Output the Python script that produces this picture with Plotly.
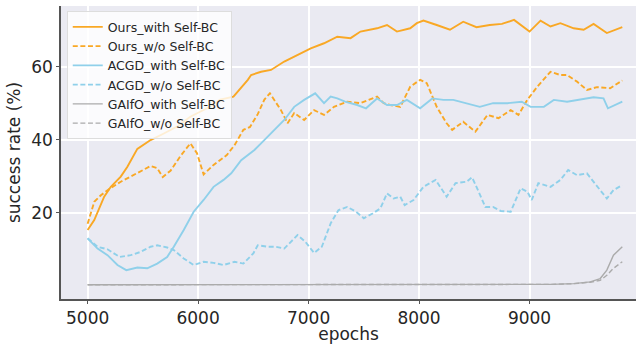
import plotly.graph_objects as go

# ---- data ----
ours_with_x = [5000, 5060, 5150, 5210, 5300, 5360, 5450, 5570, 5690, 5810, 5930, 6080, 6200, 6320,
               6450, 6480, 6570, 6660, 6780, 6900, 7020, 7140, 7260, 7380, 7470, 7620, 7710, 7800,
               7920, 7980, 8040, 8160, 8280, 8400, 8520, 8640, 8750, 8860, 9000, 9100, 9190, 9280,
               9400, 9490, 9580, 9700, 9790, 9840]
ours_with_y = [15.3, 18.0, 24.4, 27.1, 29.9, 32.6, 37.5, 39.9, 41.7, 43.6, 46.3, 48.6, 51.0, 51.8,
               56.4, 57.7, 58.6, 59.1, 61.4, 63.2, 65.0, 66.4, 68.2, 67.8, 69.6, 70.5, 71.4, 69.6,
               70.5, 71.9, 72.6, 71.4, 70.1, 72.3, 70.8, 71.4, 71.7, 72.8, 69.6, 72.6, 71.0, 71.9,
               70.5, 70.1, 71.7, 69.2, 70.2, 70.8]

ours_wo_x = [5000, 5060, 5120, 5210, 5300, 5390, 5480, 5570, 5630, 5680, 5750, 5840, 5930, 5990,
             6050, 6140, 6260, 6330, 6410, 6470, 6540, 6600, 6650, 6750, 6810, 6870, 6960, 7050,
             7140, 7230, 7350, 7470, 7620, 7680, 7740, 7830, 7920, 8010, 8070, 8160, 8250, 8300,
             8400, 8510, 8620, 8720, 8830, 8900, 8980, 9070, 9190, 9280, 9340, 9430, 9520, 9610,
             9730, 9840]
ours_wo_y = [17.0, 23.0, 24.8, 26.8, 28.5, 29.9, 31.5, 32.8, 32.2, 29.8, 31.5, 35.5, 39.0, 36.3,
             30.5, 33.1, 35.8, 38.5, 42.7, 43.5, 47.0, 51.0, 52.7, 48.1, 44.5, 47.3, 45.4, 48.1,
             46.8, 49.0, 50.4, 50.0, 51.8, 50.0, 49.5, 49.0, 54.5, 56.4, 55.5, 49.0, 44.5, 42.7,
             44.9, 42.2, 46.8, 45.9, 48.1, 46.8, 50.9, 54.5, 58.6, 57.7, 57.7, 55.9, 53.6, 54.4,
             54.1, 56.2]

acgd_with_x = [5000, 5090, 5180, 5270, 5350, 5450, 5540, 5630, 5720, 5780, 5870, 5960, 6050, 6140,
               6230, 6300, 6390, 6510, 6570, 6690, 6780, 6870, 6960, 7060, 7140, 7200, 7260, 7330,
               7440, 7520, 7620, 7710, 7800, 7890, 8010, 8120, 8220, 8310, 8430, 8550, 8670, 8800,
               8930, 9010, 9130, 9220, 9340, 9460, 9580, 9670, 9710, 9840]
acgd_with_y = [13.0, 10.2, 8.4, 5.7, 4.3, 5.0, 4.8, 6.1, 7.9, 10.7, 15.3, 20.3, 23.5, 27.1,
               29.0, 30.8, 34.4, 37.2, 39.0, 42.7, 45.4, 49.0, 50.9, 52.7, 50.0, 51.8, 51.3, 50.4,
               49.5, 48.6, 51.3, 49.5, 49.5, 50.9, 48.6, 51.3, 50.9, 50.9, 50.0, 49.0, 50.0, 50.0,
               50.4, 49.0, 49.0, 50.9, 50.4, 50.9, 51.6, 51.3, 48.6, 50.4]

acgd_wo_x = [5000, 5090, 5180, 5290, 5390, 5480, 5570, 5630, 5720, 5780, 5870, 5960, 6050, 6140,
             6230, 6330, 6410, 6500, 6540, 6630, 6700, 6780, 6900, 6970, 7050, 7120, 7200, 7270,
             7350, 7430, 7500, 7580, 7650, 7710, 7770, 7830, 7870, 7950, 8040, 8150, 8250, 8330,
             8430, 8480, 8520, 8600, 8670, 8740, 8830, 8920, 8980, 9020, 9080, 9190, 9280, 9350,
             9430, 9520, 9590, 9700, 9760, 9840]
acgd_wo_y = [13.0, 10.7, 10.0, 7.9, 8.4, 9.3, 10.7, 11.1, 10.5, 9.8, 7.5, 5.7, 6.6, 6.3,
             5.7, 6.6, 6.1, 8.9, 11.1, 10.7, 10.7, 10.2, 13.9, 12.1, 9.0, 10.7, 17.1, 20.7,
             21.6, 20.3, 18.5, 19.8, 21.2, 25.3, 23.9, 24.4, 22.1, 23.5, 27.1, 29.0, 24.4, 28.1,
             28.5, 29.7, 27.1, 21.6, 21.6, 20.5, 20.3, 26.7, 25.8, 23.5, 28.1, 27.1, 29.0, 31.7,
             30.3, 30.8, 28.1, 23.9, 26.2, 27.6]

gaifo_with_x = [5000, 6000, 7000, 8000, 9000, 9200, 9400, 9550, 9640, 9700, 9760, 9840]
gaifo_with_y = [0.3, 0.3, 0.3, 0.3, 0.3, 0.4, 0.6, 1.1, 2.0, 4.3, 8.4, 10.7]

gaifo_wo_x = [5000, 6000, 7000, 8000, 9000, 9200, 9400, 9550, 9640, 9700, 9760, 9840]
gaifo_wo_y = [0.3, 0.3, 0.3, 0.3, 0.3, 0.4, 0.6, 1.0, 1.5, 2.9, 4.8, 6.6]

names = ["Ours_with Self-BC", "Ours_w/o Self-BC", "ACGD_with Self-BC",
         "ACGD_w/o Self-BC", "GAIfO_with Self-BC", "GAIfO_w/o Self-BC"]

y_ticks = [20, 40, 60]
x_ticks = [5000, 6000, 7000, 8000, 9000]

# ---- styles ----
ORANGE = "#F9A825"
BLUE = "#8FD0EA"
GREY = "#ABABAB"
DASH = "5px,2.6px"

series = [
    (ours_with_x, ours_with_y, ORANGE, "solid", 1.9),
    (ours_wo_x, ours_wo_y, ORANGE, DASH, 1.9),
    (acgd_with_x, acgd_with_y, BLUE, "solid", 1.9),
    (acgd_wo_x, acgd_wo_y, BLUE, DASH, 1.9),
    (gaifo_with_x, gaifo_with_y, GREY, "solid", 1.4),
    (gaifo_wo_x, gaifo_wo_y, GREY, DASH, 1.4),
]

fig = go.Figure()
for (xs, ys, col, dash, w), nm in zip(series, names):
    fig.add_trace(go.Scatter(x=xs, y=ys, mode="lines", name=nm,
                             line=dict(color=col, dash=dash, width=w)))

FONT = "DejaVu Sans"
fig.update_layout(
    width=637, height=344,
    margin=dict(l=61, r=1, t=6, b=45),
    paper_bgcolor="white",
    plot_bgcolor="#EAEAF2",
    font=dict(family=FONT, color="#262626"),
    showlegend=True,
    legend=dict(
        x=0.010, y=0.982, xanchor="left", yanchor="top",
        bgcolor="rgba(255,255,255,0.8)", bordercolor="#DDDDDD", borderwidth=1,
        font=dict(family=FONT, size=12.5, color="#262626"),
        tracegroupgap=0, itemwidth=30,
    ),
    xaxis=dict(
        range=[4759, 9964], tickvals=x_ticks, ticktext=[str(v) for v in x_ticks],
        showgrid=True, gridcolor="white", gridwidth=1.5, zeroline=False,
        showline=True, linecolor="#555555", linewidth=1.5,
        ticks="outside", ticklen=3, tickcolor="#555555",
        tickfont=dict(size=17, family=FONT, color="#262626"),
        title=dict(text="epochs", font=dict(size=17, family=FONT, color="#262626"), standoff=4),
    ),
    yaxis=dict(
        range=[-3.6, 76.6], tickvals=y_ticks, ticktext=[str(v) for v in y_ticks],
        showgrid=True, gridcolor="white", gridwidth=1.5, zeroline=False,
        showline=True, linecolor="#555555", linewidth=1.5,
        ticks="outside", ticklen=3, tickcolor="#555555",
        tickfont=dict(size=17, family=FONT, color="#262626"),
        title=dict(text="success rate (%)", font=dict(size=17, family=FONT, color="#262626"), standoff=6),
    ),
)

fig.write_html("out.html")
